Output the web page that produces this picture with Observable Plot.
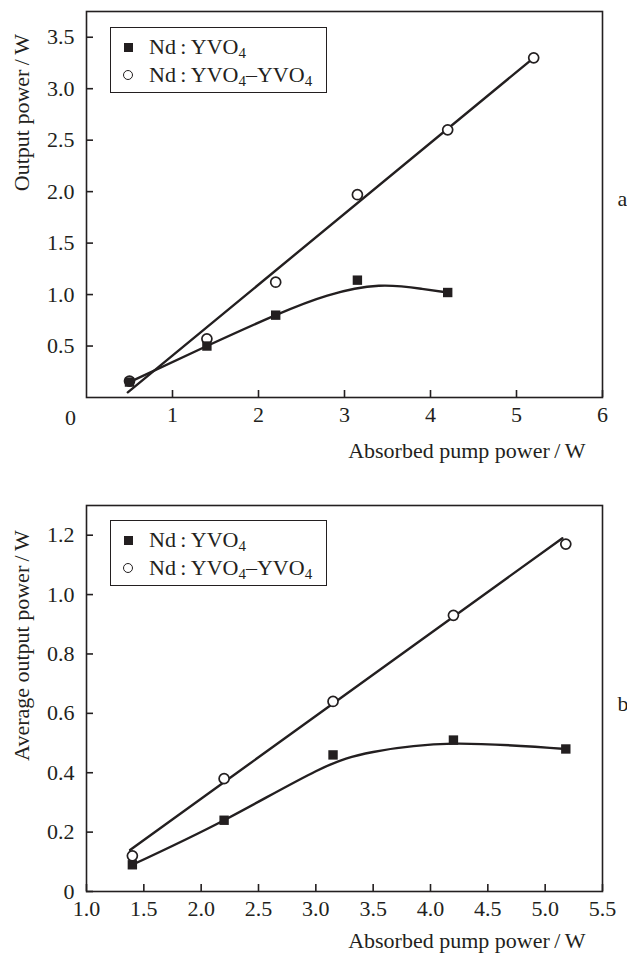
<!DOCTYPE html>
<html>
<head>
<meta charset="utf-8">
<script src="https://cdn.jsdelivr.net/npm/d3@7"></script>
<script src="https://cdn.jsdelivr.net/npm/@observablehq/plot@0.6"></script>
<style>
  html, body { margin: 0; padding: 0; background: #fff; }
  #root { position: relative; width: 627px; height: 956px; overflow: hidden; font-family: "Liberation Serif", "Times New Roman", serif; color: #231f20; }
  #root svg { position: absolute; left: 0; }
  .legend { position: absolute; box-sizing: border-box; border: 1.5px solid #231f20; background: #fff; width: 217px; height: 66px; font-size: 22px; }
  .legend .item { position: absolute; left: 0; white-space: nowrap; line-height: 22px; }
  .legend .mk { position: absolute; box-sizing: border-box; }
  .legend .sq { width: 9px; height: 9px; background: #231f20; }
  .legend .ci { width: 10px; height: 10px; border: 1.5px solid #231f20; border-radius: 50%; background: #fff; }
  .legend .tx { position: absolute; left: 38px; top: -11px; }
  .legend sub { font-size: 15px; vertical-align: -4px; line-height: 0; }
</style>
</head>
<body>
<div id="root"></div>
<script>
// ---------- Data ----------
const seriesNames = ["Nd:YVO4", "Nd:YVO4\u2013YVO4"];

// Panel a
const aPumpSq = [0.5, 1.4, 2.2, 3.15, 4.2];
const aOutSq  = [0.15, 0.50, 0.80, 1.14, 1.02];
const aPumpCi = [0.5, 1.4, 2.2, 3.15, 4.2, 5.2];
const aOutCi  = [0.16, 0.57, 1.12, 1.97, 2.60, 3.30];
const aFitSqX = [0.5, 1.4, 2.2, 2.8, 3.4, 3.9, 4.2];
const aFitSqY = [0.15, 0.50, 0.80, 0.99, 1.085, 1.055, 1.02];
const aFitCiX = [0.48, 5.2];
const aFitCiY = [0.05, 3.30];
const aXDomain = [0, 6];
const aYDomain = [0, 3.75];
const aXTicks = [1, 2, 3, 4, 5, 6];
const aYTicks = [0.5, 1.0, 1.5, 2.0, 2.5, 3.0, 3.5];
const aOriginLabel = ["0"];

// Panel b
const bPumpSq = [1.4, 2.2, 3.15, 4.2, 5.18];
const bOutSq  = [0.09, 0.24, 0.46, 0.51, 0.48];
const bPumpCi = [1.4, 2.2, 3.15, 4.2, 5.18];
const bOutCi  = [0.12, 0.38, 0.64, 0.93, 1.17];
const bFitSqX = [1.4, 2.2, 3.0, 3.5, 4.2, 5.18];
const bFitSqY = [0.09, 0.24, 0.405, 0.47, 0.498, 0.48];
const bFitCiX = [1.38, 5.15];
const bFitCiY = [0.14, 1.19];
const bXDomain = [1, 5.5];
const bYDomain = [0, 1.3];
const bXTicks = [1.0, 1.5, 2.0, 2.5, 3.0, 3.5, 4.0, 4.5, 5.0, 5.5];
const bYTicks = [0, 0.2, 0.4, 0.6, 0.8, 1.0, 1.2];

const xLabel = "Absorbed pump power\u2009/\u2009W";
const aYLabel = "Output power\u2009/\u2009W";
const bYLabel = "Average output power\u2009/\u2009W";
const panelTags = ["a", "b"];

// ---------- helpers ----------
const INK = "#231f20";
const FONT = "'Liberation Serif', 'Times New Roman', serif";
const zip = (xs, ys) => xs.map((x, i) => ({x, y: ys[i]}));
const f1 = d3.format(".1f");

function panel({height, marginTop, marginBottom, xDomain, yDomain, xTicks, yTicks, xFmt, yFmt,
                sq, ci, fitSq, fitCi, yLabel, yLabelDy, xLabelDy, tag, tagDy, extra = []}) {
  return Plot.plot({
    width: 627, height,
    marginLeft: 86, marginRight: 25, marginTop, marginBottom,
    x: {domain: xDomain},
    y: {domain: yDomain},
    style: {fontFamily: FONT, fontSize: "22px", color: INK, background: "transparent", overflow: "visible"},
    marks: [
      Plot.frame({stroke: INK, strokeWidth: 1.6}),
      Plot.axisX({ticks: xTicks, tickSize: -7, tickFormat: () => "", label: null, stroke: INK, strokeWidth: 1.6}),
      Plot.axisX({ticks: xTicks, tickSize: 0, tickPadding: 9, tickFormat: xFmt, label: null, fill: INK, fontSize: 22}),
      Plot.axisY({ticks: yTicks, tickSize: -7, tickFormat: () => "", label: null, stroke: INK, strokeWidth: 1.6}),
      Plot.axisY({ticks: yTicks, tickSize: 0, tickPadding: 12, tickFormat: yFmt, label: null, fill: INK, fontSize: 22}),
      Plot.line(fitSq, {x: "x", y: "y", curve: "natural", stroke: INK, strokeWidth: 2.4}),
      Plot.line(fitCi, {x: "x", y: "y", curve: "linear", stroke: INK, strokeWidth: 2.4}),
      Plot.dot(ci, {x: "x", y: "y", r: 5, fill: "white", stroke: INK, strokeWidth: 1.7}),
      Plot.dot(sq, {x: "x", y: "y", symbol: "square", r: 5.3, fill: INK, stroke: "none"}),
      Plot.text([xLabel], {text: d => d, frameAnchor: "bottom-right", textAnchor: "end", lineAnchor: "middle", dx: -17, dy: xLabelDy, fontSize: 22, fill: INK}),
      Plot.text([yLabel], {text: d => d, frameAnchor: "top-left", rotate: -90, textAnchor: "middle", lineAnchor: "middle", dx: -65, dy: yLabelDy, fontSize: 22, fill: INK}),
      Plot.text([tag], {text: d => d, frameAnchor: "right", textAnchor: "start", lineAnchor: "middle", dx: 15, dy: tagDy, fontSize: 22, fill: INK}),
      ...extra
    ]
  });
}

const root = document.getElementById("root");

const svgA = panel({
  height: 470, marginTop: 11, marginBottom: 73,
  xDomain: aXDomain, yDomain: aYDomain, xTicks: aXTicks, yTicks: aYTicks,
  xFmt: d => String(d), yFmt: f1,
  sq: zip(aPumpSq, aOutSq), ci: zip(aPumpCi, aOutCi),
  fitSq: zip(aFitSqX, aFitSqY), fitCi: zip(aFitCiX, aFitCiY),
  yLabel: aYLabel, yLabelDy: 101, xLabelDy: 53, tag: panelTags[0], tagDy: -6,
  extra: [Plot.text(aOriginLabel, {x: aXDomain[0], y: aYDomain[0], text: d => d, dx: -16, dy: 20, fontSize: 22, fill: INK})]
});
svgA.style.top = "0px";
root.appendChild(svgA);

const svgB = panel({
  height: 486, marginTop: 35, marginBottom: 65,
  xDomain: bXDomain, yDomain: bYDomain, xTicks: bXTicks, yTicks: bYTicks,
  xFmt: f1, yFmt: d => d === 0 ? "0" : f1(d),
  sq: zip(bPumpSq, bOutSq), ci: zip(bPumpCi, bOutCi),
  fitSq: zip(bFitSqX, bFitSqY), fitCi: zip(bFitCiX, bFitCiY),
  yLabel: bYLabel, yLabelDy: 140, xLabelDy: 49, tag: panelTags[1], tagDy: 5
});
svgB.style.top = "470px";
root.appendChild(svgB);

// ---------- legends ----------
function fmtName(s) {
  return s.replace(/:/g, "\u2009:\u2009").replace(/O4/g, "O<sub>4</sub>");
}
function legend(top) {
  const box = document.createElement("div");
  box.className = "legend";
  box.style.left = "110px";
  box.style.top = top + "px";
  const rows = [{cls: "sq", cy: 19}, {cls: "ci", cy: 47}];
  seriesNames.forEach((name, i) => {
    const item = document.createElement("div");
    item.className = "item";
    item.style.top = rows[i].cy + "px";
    const mk = document.createElement("div");
    mk.className = "mk " + rows[i].cls;
    const s = rows[i].cls === "sq" ? 9 : 10;
    mk.style.left = (17 - s / 2) + "px";
    mk.style.top = (-s / 2) + "px";
    const tx = document.createElement("div");
    tx.className = "tx";
    tx.innerHTML = fmtName(name);
    item.appendChild(mk);
    item.appendChild(tx);
    box.appendChild(item);
  });
  root.appendChild(box);
}
legend(27);
legend(520);
</script>
</body>
</html>
